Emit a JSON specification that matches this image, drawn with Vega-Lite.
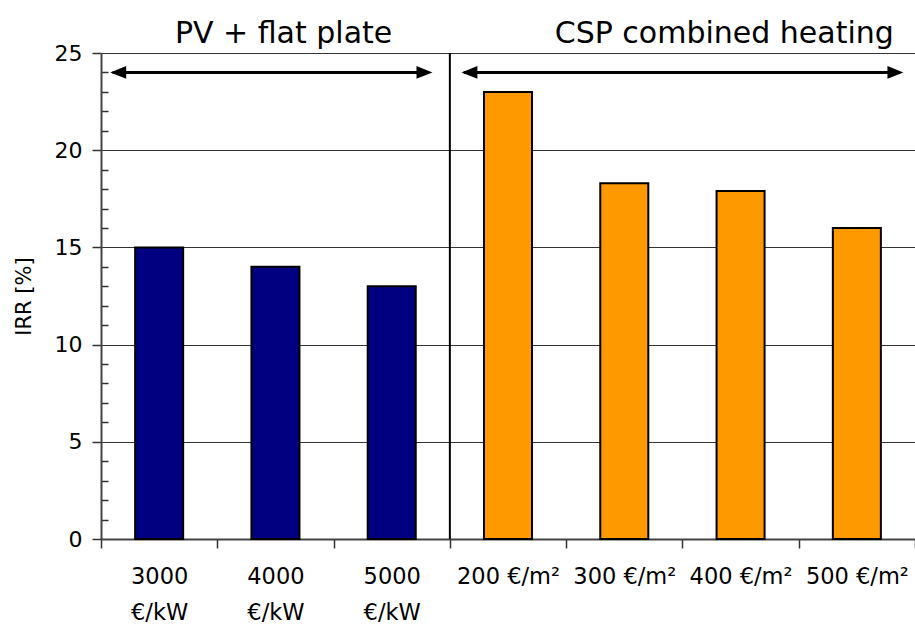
{
  "$schema": "https://vega.github.io/schema/vega-lite/v6.json",
  "width": 814,
  "height": 486,
  "autosize": "none",
  "padding": {"left": 101, "top": 53, "right": 0, "bottom": 85},
  "background": "white",
  "config": {
    "view": {"stroke": null},
    "font": "DejaVu Sans",
    "axis": {"labelFont": "DejaVu Sans", "titleFont": "DejaVu Sans", "labelColor": "#000", "titleColor": "#000"}
  },
  "layer": [
    {
      "data": {"values": [
        {"category": "3000 €/kW", "group": "PV + flat plate", "irr": 15},
        {"category": "4000 €/kW", "group": "PV + flat plate", "irr": 14},
        {"category": "5000 €/kW", "group": "PV + flat plate", "irr": 13},
        {"category": "200 €/m²", "group": "CSP combined heating", "irr": 23},
        {"category": "300 €/m²", "group": "CSP combined heating", "irr": 18.3},
        {"category": "400 €/m²", "group": "CSP combined heating", "irr": 17.9},
        {"category": "500 €/m²", "group": "CSP combined heating", "irr": 16}
      ]},
      "mark": {"type": "bar", "stroke": "#000", "strokeWidth": 2, "width": {"band": 0.413}},
      "encoding": {
        "x": {
          "field": "category", "type": "nominal", "sort": null,
          "scale": {"paddingInner": 0, "paddingOuter": 0},
          "axis": {
            "title": null, "labelAngle": 0, "labelFontSize": 22.5, "labelPadding": 17,
            "labelLineHeight": 36, "labelBaseline": "top", "labelOverlap": false,
            "labelExpr": "indexof(datum.label,'kW')>=0 ? split(datum.label,' ') : datum.label",
            "tickBand": "extent", "tickSize": 9, "tickColor": "#333", "tickWidth": 1.5,
            "domainColor": "#444", "domainWidth": 2, "grid": false
          }
        },
        "y": {
          "field": "irr", "type": "quantitative",
          "scale": {"domain": [0, 25], "nice": false},
          "axis": {
            "title": "IRR [%]", "titleFontSize": 21, "titleFontWeight": "normal", "titlePadding": 20,
            "values": [0,1,2,3,4,5,6,7,8,9,10,11,12,13,14,15,16,17,18,19,20,21,22,23,24,25],
            "labelExpr": "datum.value % 5 == 0 ? datum.label : ''",
            "labelFontSize": 22, "labelPadding": 10, "labelOverlap": false, "labelBound": false,
            "tickSize": {"expr": "datum.value % 5 == 0 ? 9 : -7"},
            "tickColor": "#333", "tickWidth": 1.5,
            "domainColor": "#444", "domainWidth": 2,
            "grid": true, "gridColor": "#333", "gridWidth": 1,
            "gridOpacity": {"expr": "datum.value % 5 == 0 ? 1 : 0"}
          }
        },
        "color": {
          "field": "group", "type": "nominal", "legend": null,
          "scale": {"domain": ["PV + flat plate", "CSP combined heating"], "range": ["#000080", "#FF9900"]}
        }
      }
    },
    {
      "data": {"values": [{}]},
      "mark": {"type": "rule", "color": "#000", "strokeWidth": 2},
      "encoding": {
        "x": {"datum": 3, "type": "quantitative", "scale": {"domain": [0, 7], "nice": false}, "axis": null},
        "y": {"datum": 0, "type": "quantitative", "scale": {"domain": [0, 25], "nice": false}, "axis": null},
        "y2": {"datum": 25}
      }
    },
    {
      "data": {"values": [{}]},
      "mark": {"type": "rule", "color": "#000", "strokeWidth": 3},
      "encoding": {
        "x": {"datum": 0.1, "type": "quantitative", "scale": {"domain": [0, 7], "nice": false}, "axis": null},
        "x2": {"datum": 2.8},
        "y": {"datum": 24, "type": "quantitative", "scale": {"domain": [0, 25], "nice": false}, "axis": null}
      }
    },
    {
      "data": {"values": [{}]},
      "mark": {"type": "rule", "color": "#000", "strokeWidth": 3},
      "encoding": {
        "x": {"datum": 3.12, "type": "quantitative", "scale": {"domain": [0, 7], "nice": false}, "axis": null},
        "x2": {"datum": 6.86},
        "y": {"datum": 24, "type": "quantitative", "scale": {"domain": [0, 25], "nice": false}, "axis": null}
      }
    },
    {
      "data": {"values": [{}]},
      "layer": [
        {"mark": {"type": "point", "filled": true, "color": "#000", "opacity": 1, "size": 450, "shape": "M0,0L1.5,-0.6L1.5,0.6Z"},
         "encoding": {"x": {"datum": 0.08, "type": "quantitative", "scale": {"domain": [0, 7], "nice": false}, "axis": null}, "y": {"datum": 24, "type": "quantitative", "scale": {"domain": [0, 25], "nice": false}, "axis": null}}},
        {"mark": {"type": "point", "filled": true, "color": "#000", "opacity": 1, "size": 450, "shape": "M0,0L-1.5,-0.6L-1.5,0.6Z"},
         "encoding": {"x": {"datum": 2.85, "type": "quantitative", "scale": {"domain": [0, 7], "nice": false}, "axis": null}, "y": {"datum": 24, "type": "quantitative", "scale": {"domain": [0, 25], "nice": false}, "axis": null}}},
        {"mark": {"type": "point", "filled": true, "color": "#000", "opacity": 1, "size": 450, "shape": "M0,0L1.5,-0.6L1.5,0.6Z"},
         "encoding": {"x": {"datum": 3.1, "type": "quantitative", "scale": {"domain": [0, 7], "nice": false}, "axis": null}, "y": {"datum": 24, "type": "quantitative", "scale": {"domain": [0, 25], "nice": false}, "axis": null}}},
        {"mark": {"type": "point", "filled": true, "color": "#000", "opacity": 1, "size": 450, "shape": "M0,0L-1.5,-0.6L-1.5,0.6Z"},
         "encoding": {"x": {"datum": 6.9, "type": "quantitative", "scale": {"domain": [0, 7], "nice": false}, "axis": null}, "y": {"datum": 24, "type": "quantitative", "scale": {"domain": [0, 25], "nice": false}, "axis": null}}},
        {"mark": {"type": "text", "text": "PV + flat plate", "fontSize": 30, "font": "DejaVu Sans", "align": "center", "baseline": "alphabetic", "dy": -10, "color": "#000"},
         "encoding": {"x": {"datum": 1.57, "type": "quantitative", "scale": {"domain": [0, 7], "nice": false}, "axis": null}, "y": {"datum": 25, "type": "quantitative", "scale": {"domain": [0, 25], "nice": false}, "axis": null}}},
        {"mark": {"type": "text", "text": "CSP combined heating", "fontSize": 30, "font": "DejaVu Sans", "align": "center", "baseline": "alphabetic", "dy": -10, "color": "#000"},
         "encoding": {"x": {"datum": 5.36, "type": "quantitative", "scale": {"domain": [0, 7], "nice": false}, "axis": null}, "y": {"datum": 25, "type": "quantitative", "scale": {"domain": [0, 25], "nice": false}, "axis": null}}}
      ]
    }
  ],
  "resolve": {"scale": {"x": "independent", "y": "independent"}}
}
